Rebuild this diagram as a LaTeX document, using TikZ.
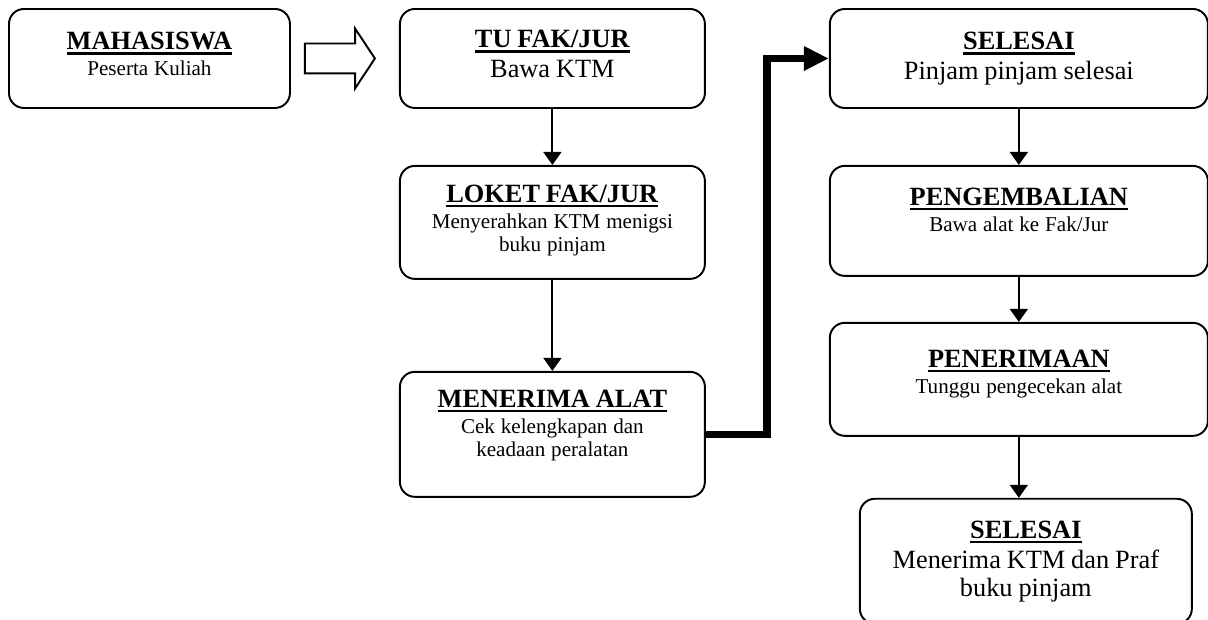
\documentclass[tikz,border=0pt]{standalone}
\usepackage{fontspec}
\setmainfont{Liberation Serif}
\usetikzlibrary{positioning,arrows.meta,shapes.arrows}

\newcommand{\judul}[1]{{\fontsize{15}{17}\selectfont\setbox0\hbox{\textbf{#1}}%
  \leavevmode\rlap{\rule[-2.6pt]{\wd0}{1.3pt}}\box0\par}}
\newcommand{\kecil}{\vspace{1.7pt}\fontsize{12}{13.1}\selectfont}
\newcommand{\besar}{\vspace{1pt}\fontsize{15}{16}\selectfont}

\begin{document}
\begin{tikzpicture}[
    box/.style = {draw, rounded corners = 0.3cm, line width = 1.1pt, inner sep = 0pt, align = center},
    arr/.style = {-{Triangle[width = 0.36cm, length = 0.26cm]}, line width = 1.1pt},
    tebal/.style = {-{Triangle[width = 0.46cm, length = 0.5cm]}, line width = 0.15cm},
    panah/.style = {draw, single arrow, line width = 1.1pt, inner xsep = 0pt, inner ysep = 0.28cm,
      minimum height = 1.4cm, single arrow head extend = 0.3cm, single arrow tip angle = 113}
  ]
    \useasboundingbox (0,0) rectangle (24.16,-12.38);

    % kolom kiri
    \node[box, text width = 5.62cm, text height = 0.82cm, text depth = 1.16cm, anchor = north west] (maha) at (0.16,-0.16)
      {\judul{MAHASISWA}\kecil Peserta Kuliah\par};
    \node[panah, right = 0.26cm of maha] (blok) {};

    % kolom tengah
    \node[box, text width = 6.1cm, text height = 0.78cm, text depth = 1.2cm, right = 2.16cm of maha] (tu)
      {\judul{TU FAK/JUR}\besar Bawa KTM\par};
    \node[box, text width = 6.1cm, text height = 0.74cm, text depth = 1.52cm, below = 1.12cm of tu] (loket)
      {\judul{LOKET FAK/JUR}\kecil Menyerahkan KTM menigsi\\ buku pinjam\par};
    \node[box, text width = 6.1cm, text height = 0.72cm, text depth = 1.78cm, below = 1.82cm of loket] (alat)
      {\judul{MENERIMA ALAT}\kecil Cek kelengkapan dan\\ keadaan peralatan\par};

    % kolom kanan
    \node[box, text width = 7.56cm, text height = 0.82cm, text depth = 1.16cm, right = 2.46cm of tu] (selesai)
      {\judul{SELESAI}\besar Pinjam pinjam selesai\par};
    \node[box, text width = 7.56cm, text height = 0.8cm, text depth = 1.4cm, below = 1.12cm of selesai] (kembali)
      {\judul{PENGEMBALIAN}\kecil Bawa alat ke Fak/Jur\par};
    \node[box, text width = 7.56cm, text height = 0.9cm, text depth = 1.36cm, below = 0.9cm of kembali] (terima)
      {\judul{PENERIMAAN}\kecil Tunggu pengecekan alat\par};
    \node[box, text width = 6.64cm, text height = 0.8cm, text depth = 1.7cm, below = 1.22cm of terima, xshift = 0.14cm] (akhir)
      {\judul{SELESAI}\besar Menerima KTM dan Praf\\ buku pinjam\par};

    \coordinate[left = 1.24cm of selesai.west] (siku);

    \draw[arr] (tu) -- (loket);
    \draw[arr] (loket) -- (alat);
    \draw[tebal] (alat.east) -| (siku) -- (selesai.west);
    \draw[arr] (selesai) -- (kembali);
    \draw[arr] (kembali) -- (terima);
    \draw[arr] (terima) -- (terima |- akhir.north);
\end{tikzpicture}
\end{document}
